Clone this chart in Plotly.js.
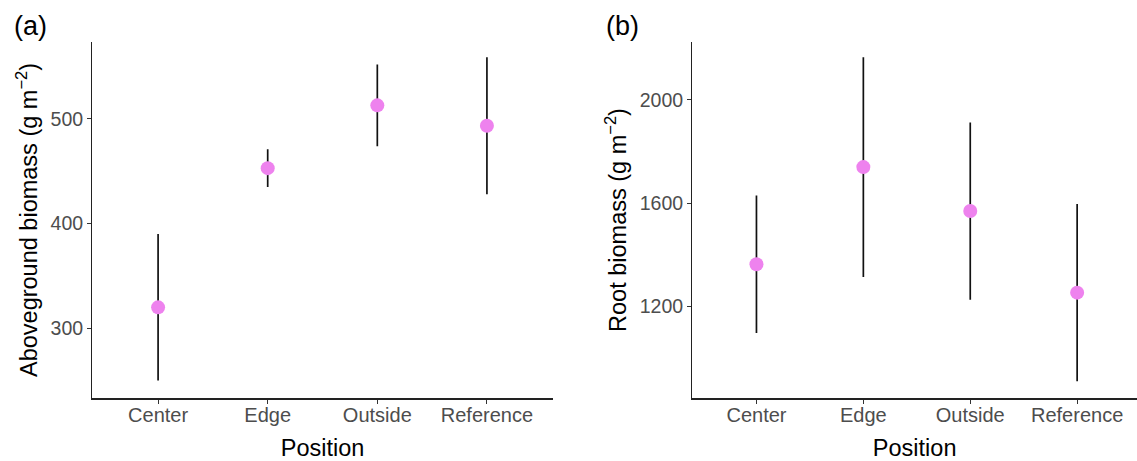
<!DOCTYPE html>
<html>
<head>
<meta charset="utf-8">
<script src="https://cdn.plot.ly/plotly-3.0.1.min.js"></script>
<style>html,body{margin:0;padding:0;background:#fff;}#chart{width:1137px;height:461px;}</style>
</head>
<body>
<div id="chart"></div>
<script>
const positions = ['Center', 'Edge', 'Outside', 'Reference'];
const aboveMean = [320, 453, 513, 493.5];
const aboveErr = [70, 18, 39, 65.5];
const rootMean = [1363, 1739, 1569, 1253];
const rootErr = [266, 425, 343, 343];
const aboveTicks = [300, 400, 500];
const rootTicks = [1200, 1600, 2000];

const font = 'Liberation Sans, Arial, sans-serif';
const markerStyle = {color: '#EE82EE', size: 14};
const errStyle = {type: 'data', visible: true, thickness: 1.7, width: 0, color: '#111'};

const traces = [
  {x: positions, y: aboveMean, type: 'scatter', mode: 'markers', xaxis: 'x', yaxis: 'y',
   marker: markerStyle, error_y: Object.assign({array: aboveErr}, errStyle), hoverinfo: 'skip'},
  {x: positions, y: rootMean, type: 'scatter', mode: 'markers', xaxis: 'x2', yaxis: 'y2',
   marker: markerStyle, error_y: Object.assign({array: rootErr}, errStyle), hoverinfo: 'skip'}
];

const axisCommon = {
  showline: true, linecolor: '#222', linewidth: 1.3, showgrid: false, zeroline: false,
  ticks: 'outside', ticklen: 4, tickwidth: 1, tickcolor: '#333'
};
const xTickFont = {family: font, size: 20, color: '#4D4D4D'};
const yTickFont = {family: font, size: 19.5, color: '#4D4D4D'};
const titleFont = {family: font, size: 23.5, color: '#000'};

const layout = {
  width: 1137, height: 461,
  margin: {l: 0, r: 0, t: 0, b: 0},
  paper_bgcolor: '#fff', plot_bgcolor: '#fff',
  showlegend: false,
  font: {family: font},
  xaxis: Object.assign({}, axisCommon, {domain: [0.0812, 0.4861], range: [-0.6, 3.6], type: 'category',
    tickfont: xTickFont, ticklabelstandoff: -6,
    title: {text: 'Position', font: titleFont, standoff: 16}, anchor: 'y'}),
  yaxis: Object.assign({}, axisCommon, {domain: [0.136, 0.9095], range: [233.1, 573.8], tickvals: aboveTicks,
    tickfont: yTickFont,
    title: {text: 'Aboveground biomass (g m<sup>\u22122</sup>)', font: titleFont, standoff: 6}, anchor: 'x'}),
  xaxis2: Object.assign({}, axisCommon, {domain: [0.6089, 1.0], range: [-0.6, 3.56], type: 'category',
    tickfont: xTickFont, ticklabelstandoff: -6,
    title: {text: 'Position', font: titleFont, standoff: 16}, anchor: 'y2'}),
  yaxis2: Object.assign({}, axisCommon, {domain: [0.136, 0.9095], range: [844, 2224.5], tickvals: rootTicks,
    tickfont: yTickFont,
    title: {text: 'Root biomass (g m<sup>\u22122</sup>)', font: titleFont, standoff: 6}, anchor: 'x2'}),
  annotations: [
    {text: '(a)', xref: 'paper', yref: 'paper', x: 12 / 1137, y: 1 - 26 / 461, xanchor: 'left', yanchor: 'middle',
     showarrow: false, font: {family: font, size: 27, color: '#000'}},
    {text: '(b)', xref: 'paper', yref: 'paper', x: 604 / 1137, y: 1 - 26 / 461, xanchor: 'left', yanchor: 'middle',
     showarrow: false, font: {family: font, size: 27, color: '#000'}}
  ]
};

Plotly.newPlot('chart', traces, layout, {displayModeBar: false, staticPlot: true});
</script>
</body>
</html>
